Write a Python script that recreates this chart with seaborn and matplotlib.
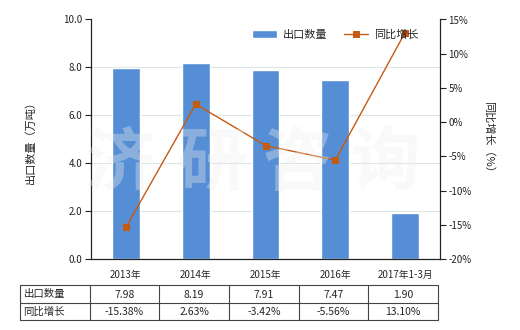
import numpy as np
import pandas as pd
import matplotlib
matplotlib.use("Agg")
import matplotlib.pyplot as plt
import seaborn as sns

categories = ["2013年", "2014年", "2015年", "2016年", "2017年1-3月"]
export_qty = [7.98, 8.19, 7.91, 7.47, 1.90]
yoy_growth = [-15.38, 2.63, -3.42, -5.56, 13.10]
qty_labels = ["7.98", "8.19", "7.91", "7.47", "1.90"]
growth_labels = ["-15.38%", "2.63%", "-3.42%", "-5.56%", "13.10%"]
left_ticks = [0, 2, 4, 6, 8, 10]
right_ticks = [-20, -15, -10, -5, 0, 5, 10, 15]
watermark_chars = ["济", "研", "咨", "询"]

sns.set_theme(style="white")
plt.rcParams['font.family'] = ['Noto Sans CJK SC', 'DejaVu Sans']
plt.rcParams['axes.unicode_minus'] = False

BAR_C = "#558ED5"
LINE_C = "#C55A11"

fig = plt.figure(figsize=(5.2, 3.3), dpi=100)
ax = fig.add_axes([91/520, 1-259/330, (440-91)/520, (259-19.5)/330])

df = pd.DataFrame({"cat": categories, "qty": export_qty, "pos": np.arange(len(categories)), "yoy": yoy_growth})
sns.barplot(data=df, x="cat", y="qty", color=BAR_C, saturation=1, width=0.4, ax=ax, label="出口数量")
ax.set_ylim(0, 10)
ax.set_yticks(left_ticks)
ax.set_yticklabels([f"{v:.1f}" for v in left_ticks], fontsize=7)
ax.set_xlabel("")
ax.set_ylabel("出口数量（万吨）", fontsize=8, labelpad=20)
ax.tick_params(axis='x', labelsize=7, length=0, pad=8)
ax.tick_params(axis='y', length=4, width=0.8, direction='out', left=True, pad=2, colors='#222222')
ax.grid(axis='y', color='#dbe6e6', linewidth=0.8)
ax.set_axisbelow(True)
ax.spines['top'].set_visible(False)
for s in ['left', 'right', 'bottom']:
    ax.spines[s].set_color('#222222')
    ax.spines[s].set_linewidth(0.8)
ax.set_xlim(-0.5, len(categories)-0.5)

ax2 = ax.twinx()
sns.lineplot(data=df, x="pos", y="yoy", color=LINE_C, marker="s", markersize=4,
             markeredgecolor=LINE_C, linewidth=1, ax=ax2, label="同比增长")
ax2.set_ylim(-20, 15)
ax2.set_yticks(right_ticks)
ax2.set_yticklabels([f"{v}%" for v in right_ticks], fontsize=7)
ax2.set_ylabel("同比增长（%）", fontsize=8, rotation=270, labelpad=16)
ax2.tick_params(axis='y', length=4, width=0.8, direction='out', right=True, pad=2, colors='#222222')
ax2.spines['top'].set_visible(False)
for s in ['left', 'right', 'bottom']:
    ax2.spines[s].set_color('#222222')
    ax2.spines[s].set_linewidth(0.8)
ax2.grid(False)
ax2.set_xlim(-0.5, len(categories)-0.5)

h1, l1 = ax.get_legend_handles_labels()
h2, l2 = ax2.get_legend_handles_labels()
if ax.get_legend():
    ax.get_legend().remove()
ax2.legend(h1 + h2, l1 + l2, loc='upper center', bbox_to_anchor=(0.7, 1.0), ncol=2,
           frameon=False, fontsize=8, handlelength=2.2, columnspacing=1.5, handletextpad=0.5)

# watermark
for ch, xc in zip(watermark_chars, [120, 212, 297, 385]):
    fig.text(xc/520, 1-165/330, ch, fontsize=50, color='#eeeeee', alpha=0.35,
             ha='center', va='center', fontweight='bold', zorder=10)

# table
tab = fig.add_axes([20/520, 1-320/330, 418/520, 35/330])
tab.set_xlim(0, 6)
tab.set_ylim(0, 2)
tab.axis('off')
for x in range(7):
    tab.plot([x, x], [0, 2], color='#444444', lw=0.8, clip_on=False)
for y in range(3):
    tab.plot([0, 6], [y, y], color='#444444', lw=0.8, clip_on=False)
tab.text(0.05, 1.5, "出口数量", fontsize=7.5, va='center', ha='left')
tab.text(0.05, 0.5, "同比增长", fontsize=7.5, va='center', ha='left')
for i, (q, g) in enumerate(zip(qty_labels, growth_labels)):
    tab.text(i + 1.5, 1.45, q, fontsize=7.5, va='center', ha='center')
    tab.text(i + 1.5, 0.45, g, fontsize=7.5, va='center', ha='center')

fig.savefig("out.png", dpi=100)
